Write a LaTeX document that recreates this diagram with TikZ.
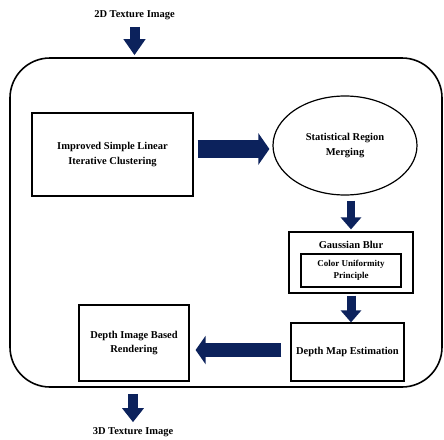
\documentclass[tikz,border=0pt]{standalone}
\usepackage{fontspec}
\setmainfont{Liberation Serif}
\usepackage{tikz}
\usetikzlibrary{arrows.meta, positioning, shapes.geometric}
\definecolor{arrownavy}{RGB}{12,34,92}
\tikzset{
	blockbox/.style={draw, line width=1.2pt, inner sep=0pt, align=center, font=\bfseries\fontsize{10.5}{14.5}\selectfont}
}
\tikzset{
	innerbox/.style={draw, line width=1.2pt, inner sep=0pt, align=center, font=\bfseries\fontsize{9}{12.5}\selectfont}
}
\tikzset{
	fatarrow/.style args={#1/#2/#3}{draw=arrownavy, line width=#1, line cap=butt, -{Triangle[width=#2,length=#3]}}
}
\tikzset{
	labeltext/.style={inner sep=1pt, font=\bfseries\fontsize{10.5}{14.5}\selectfont}
}

\begin{document}
\begin{tikzpicture}[x=1pt, y=-1pt]
      \useasboundingbox (0,0) rectangle (444,439);
      % input and output
      \node[labeltext] (tex2d) at (134.5,15) {2D Texture Image};
      \node[labeltext] (tex3d) at (133,432) {3D Texture Image};
      % frame
      \node[draw, line width=1.6pt, rounded corners=40pt, minimum width=432pt, minimum height=329pt] (frame) at (226,222.5) {};
      % stages
      \node[blockbox, minimum width=161pt, minimum height=83pt] (islic) at (112.5,154.5) {Improved Simple Linear\\Iterative Clustering};
      \node[blockbox, ellipse, minimum width=144pt, minimum height=99pt] (srm) at (345,145.5) {Statistical Region\\Merging};
      \node[blockbox, minimum width=124pt, minimum height=61pt] (gauss) at (351,262.5) {};
      \node[labeltext] (gtitle) at (351,245) {Gaussian Blur};
      \node[innerbox, minimum width=100pt, minimum height=33pt] (cup) at (351,270.5) {Color Uniformity\\Principle};
      \node[blockbox, minimum width=113pt, minimum height=58pt] (dme) at (347.5,352) {Depth Map Estimation};
      \node[blockbox, minimum width=110pt, minimum height=76pt] (dibr) at (134,343) {Depth Image Based\\Rendering};
      % arrows
      \draw[fatarrow=10pt/21pt/16pt, shorten <=6pt, shorten >=2pt] (tex2d) -- (tex2d |- frame.north);
      \draw[fatarrow=18pt/31pt/11pt, shorten <=4pt, shorten >=3pt] ([yshift=5.5pt]islic.east) -- ([yshift=5.5pt]islic.east -| srm.west);
      \draw[fatarrow=8pt/20pt/12pt, shorten <=5pt, shorten >=2pt] (srm.south -| gauss.north) -- (gauss.north);
      \draw[fatarrow=9pt/20pt/12pt, shorten <=2pt] (gauss.south) -- (gauss.south |- dme.north);
      \draw[fatarrow=14pt/28pt/10pt, shorten <=9pt, shorten >=6pt] ([yshift=2pt]dme.west) -- ([yshift=2pt]dme.west -| dibr.east);
      \draw[fatarrow=10pt/21pt/14pt, shorten <=6pt, shorten >=4pt] (tex3d |- frame.south) -- (tex3d.north);
\end{tikzpicture}
\end{document}
